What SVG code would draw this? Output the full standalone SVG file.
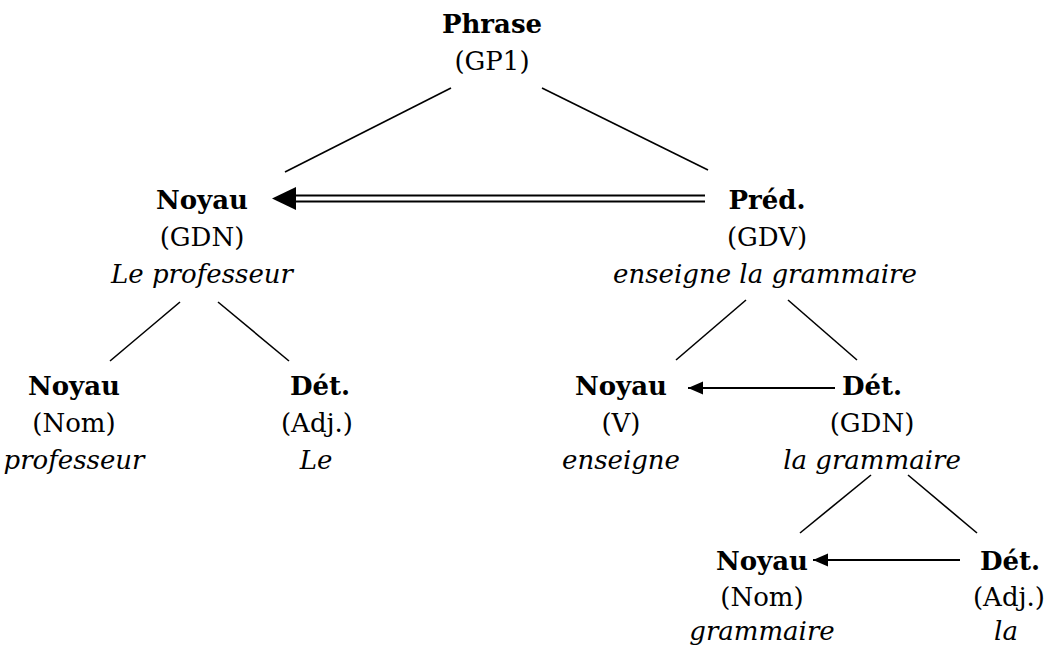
<svg xmlns="http://www.w3.org/2000/svg" width="1049" height="646" viewBox="0 0 1049 646">
<defs>
<style>
text{font-family:"DejaVu Serif","Liberation Serif",serif;font-size:26px;fill:#000;text-anchor:middle}
.b{font-weight:bold}
.i{font-style:italic}
.edge{stroke:#000;stroke-width:1.6;fill:none}
.arr{stroke:#000;stroke-width:2.2;fill:none}
.dbl{stroke:#000;stroke-width:2;fill:none}
</style>
<marker id="ah" markerUnits="userSpaceOnUse" markerWidth="16" markerHeight="14" refX="15" refY="6.5" orient="auto">
<path d="M0,0 L15,6.5 L0,13 z" fill="#000"/>
</marker>
</defs>
<rect width="1049" height="646" fill="#fff"/>
<g id="connectors">
<line class="edge" x1="451" y1="88" x2="285" y2="172"/>
<line class="edge" x1="542" y1="88" x2="708" y2="170"/>
<line class="edge" x1="180" y1="302" x2="110" y2="361"/>
<line class="edge" x1="218" y1="302" x2="289" y2="361"/>
<line class="edge" x1="746" y1="300" x2="676" y2="360"/>
<line class="edge" x1="788" y1="300" x2="857" y2="360"/>
<line class="edge" x1="871" y1="475" x2="800" y2="533"/>
<line class="edge" x1="908" y1="475" x2="977" y2="533"/>
<line class="dbl" x1="292" y1="195.5" x2="705" y2="195.5"/>
<line class="dbl" x1="292" y1="201.5" x2="705" y2="201.5"/>
<polygon points="272,198.5 296,187 296,210" fill="#000"/>
<line class="arr" x1="835" y1="388" x2="688" y2="388" marker-end="url(#ah)"/>
<line class="arr" x1="960" y1="560" x2="813" y2="560" marker-end="url(#ah)"/>
</g>
<g id="phrase">
<text class="b" x="492" y="33">Phrase</text>
<text x="492" y="70">(GP1)</text>
</g>
<g id="noyau-gdn">
<text class="b" x="202" y="209">Noyau</text>
<text x="202" y="246">(GDN)</text>
<text class="i" x="202" y="283">Le professeur</text>
</g>
<g id="pred-gdv">
<text class="b" x="767" y="209">Préd.</text>
<text x="767" y="246">(GDV)</text>
<text class="i" x="765" y="283">enseigne la grammaire</text>
</g>
<g id="noyau-nom-1">
<text class="b" x="74" y="395">Noyau</text>
<text x="74" y="432">(Nom)</text>
<text class="i" x="74" y="469">professeur</text>
</g>
<g id="det-adj-1">
<text class="b" x="320" y="395">Dét.</text>
<text x="317" y="432">(Adj.)</text>
<text class="i" x="316" y="469">Le</text>
</g>
<g id="noyau-v">
<text class="b" x="621" y="395">Noyau</text>
<text x="621" y="432">(V)</text>
<text class="i" x="621" y="469">enseigne</text>
</g>
<g id="det-gdn">
<text class="b" x="872" y="395">Dét.</text>
<text x="872" y="432">(GDN)</text>
<text class="i" x="872" y="469">la grammaire</text>
</g>
<g id="noyau-nom-2">
<text class="b" x="762" y="570">Noyau</text>
<text x="762" y="606">(Nom)</text>
<text class="i" x="762" y="640">grammaire</text>
</g>
<g id="det-adj-2">
<text class="b" x="1010" y="570">Dét.</text>
<text x="1009" y="606">(Adj.)</text>
<text class="i" x="1006" y="640">la</text>
</g>
</svg>
